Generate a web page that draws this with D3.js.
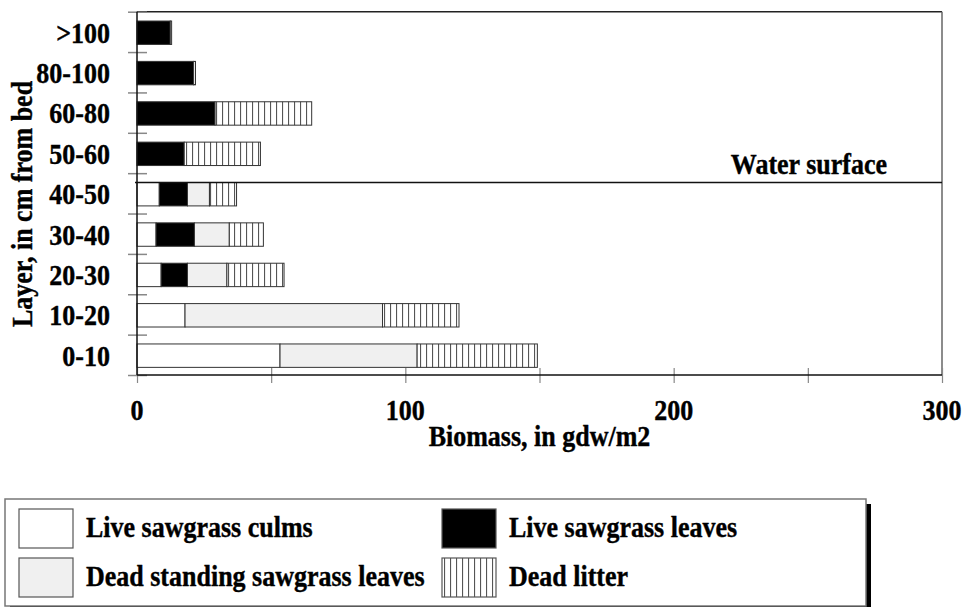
<!DOCTYPE html>
<html>
<head>
<meta charset="utf-8">
<script src="https://cdn.jsdelivr.net/npm/d3@7"></script>
<style>
  body { margin: 0; background: #fff; }
  text { font-family: "Liberation Serif", "Times New Roman", serif; font-weight: bold; fill: #000; stroke: #000; stroke-width: 0.35px; }
</style>
</head>
<body>
<svg width="963" height="607"></svg>
<script>
// layers, bottom to top
const layers = ['0-10', '10-20', '20-30', '30-40', '40-50', '50-60', '60-80', '80-100', '>100']
const culms    = [53.3, 17.9,  9.0,  7.1,  8.3,  0,    0,    0,    0]
const leaves   = [0,    0,     9.8, 14.3, 10.5, 17.6, 29.1, 21.1, 12.4]
const deadLvs  = [51.1, 73.6, 14.7, 13.0,  8.2,  0,    0,    0,    0]
const litter   = [44.8, 28.5, 21.3, 12.7, 10.1, 28.4, 36.0,  0.7,  0.5]

const seriesKeys = ['culms', 'leaves', 'deadLvs', 'litter']
const seriesNames = ['Live sawgrass culms', 'Live sawgrass leaves', 'Dead standing sawgrass leaves', 'Dead litter']
const xTicks = [0, 50, 100, 150, 200, 250, 300]
const xLabels = [0, 100, 200, 300]

const fills = { culms: '#ffffff', leaves: '#000000', deadLvs: '#f0f0f0', litter: 'url(#litter)' }
const K = 1.12  // the glyphs in the original look a bit tall

const rows = layers.map((l, i) => ({ layer: l, culms: culms[i], leaves: leaves[i], deadLvs: deadLvs[i], litter: litter[i] }))

const svg = d3.select('svg')

// vertical hatch for dead litter
const defs = svg.append('defs')
const pat = defs.append('pattern')
    .attr('id', 'litter')
    .attr('patternUnits', 'userSpaceOnUse')
    .attr('width', 6).attr('height', 10)
pat.append('rect').attr('width', 6).attr('height', 10).attr('fill', '#fff')
pat.append('line').attr('x1', 0.5).attr('x2', 0.5).attr('y1', 0).attr('y2', 10)
    .attr('stroke', '#555').attr('stroke-width', 1.2)

const mLeft = 137, mRight = 942, mTop = 11.7, mBottom = 375

const x = d3.scaleLinear().domain([0, 300]).range([mLeft, mRight])
const y = d3.scaleBand().domain(layers).range([mBottom, mTop]).paddingInner(0.42).paddingOuter(0.21).align(0.55)
const yEdges = d3.scaleLinear().domain([0, layers.length]).range([mBottom, mTop])

function label(g, str, tx, ty, anchor, size, rot) {
    return g.append('text')
        .attr('transform', `translate(${tx},${ty})` + (rot ? ` rotate(${rot})` : '') + ` scale(1,${K})`)
        .attr('text-anchor', anchor)
        .style('font-size', size + 'px')
        .text(str)
}

// frame
svg.append('line').attr('x1', mLeft).attr('x2', mRight).attr('y1', mTop).attr('y2', mTop)
    .attr('stroke', '#222').attr('stroke-width', 1.5)
svg.append('line').attr('x1', mRight).attr('x2', mRight).attr('y1', mTop).attr('y2', mBottom)
    .attr('stroke', '#666').attr('stroke-width', 1.5)

// bars
const stack = d3.stack().keys(seriesKeys)(rows)
svg.append('g').selectAll('g')
    .data(stack)
    .join('g')
    .attr('fill', d => fills[d.key])
    .selectAll('rect')
    .data(d => d.filter(s => s[1] - s[0] > 0))
    .join('rect')
    .attr('x', d => x(d[0]))
    .attr('width', d => x(d[1]) - x(d[0]))
    .attr('y', d => y(d.data.layer))
    .attr('height', y.bandwidth())
    .attr('stroke', '#333')
    .attr('stroke-width', 1)

// y ticks at band edges, crossing the axis
svg.append('g')
    .attr('transform', `translate(${mLeft + 10},0)`)
    .call(d3.axisLeft(yEdges).tickValues(d3.range(0, layers.length + 1)).tickSize(19).tickFormat(''))
    .call(g => g.select('.domain').remove())
    .call(g => g.selectAll('.tick line').attr('stroke', '#888').attr('stroke-width', 1.5))

// x ticks, crossing the axis
svg.append('g')
    .attr('transform', `translate(0,${mBottom - 7})`)
    .call(d3.axisBottom(x).tickValues(xTicks).tickSize(15).tickFormat(''))
    .call(g => g.select('.domain').remove())
    .call(g => g.selectAll('.tick line').attr('stroke', '#888').attr('stroke-width', 1.2))

// axis lines
svg.append('line').attr('x1', mLeft).attr('x2', mRight).attr('y1', mBottom).attr('y2', mBottom)
    .attr('stroke', '#111').attr('stroke-width', 1.5)
svg.append('line').attr('x1', mLeft).attr('x2', mLeft).attr('y1', mTop).attr('y2', mBottom)
    .attr('stroke', '#111').attr('stroke-width', 1.5)

// water surface, at the top of the 40-50 layer
const wy = y('40-50')
svg.append('line').attr('x1', mLeft - 2).attr('x2', mRight).attr('y1', wy).attr('y2', wy)
    .attr('stroke', '#111').attr('stroke-width', 1.5)
label(svg, 'Water surface', 887, wy - 8, 'end', 26)

// tick labels
const tl = svg.append('g')
layers.forEach(l => label(tl, l, 110, y(l) + y.bandwidth() / 2 + 10, 'end', 26))
xLabels.forEach(v => label(tl, v, x(v), 420, 'middle', 26))

// axis titles
label(svg, 'Biomass, in gdw/m2', (mLeft + mRight) / 2, 446, 'middle', 26)
label(svg, 'Layer, in cm from bed', 32, 204, 'middle', 26, -90)

// legend
const lg = svg.append('g')
lg.append('rect').attr('x', 10).attr('y', 504).attr('width', 861).attr('height', 107).attr('fill', '#000')
lg.append('rect').attr('x', 5).attr('y', 499).attr('width', 861).attr('height', 107)
    .attr('fill', '#fff').attr('stroke', '#777').attr('stroke-width', 1.5)
const pos = [[19, 509], [442, 509], [19, 558], [442, 558]]
seriesKeys.forEach((k, i) => {
    const [sx, sy] = pos[i]
    lg.append('rect').attr('x', sx).attr('y', sy).attr('width', 54).attr('height', 39)
        .attr('fill', fills[k]).attr('stroke', '#555').attr('stroke-width', 1.2)
    label(lg, seriesNames[i], sx + 67, sy + 28, 'start', 26)
})
</script>
</body>
</html>
